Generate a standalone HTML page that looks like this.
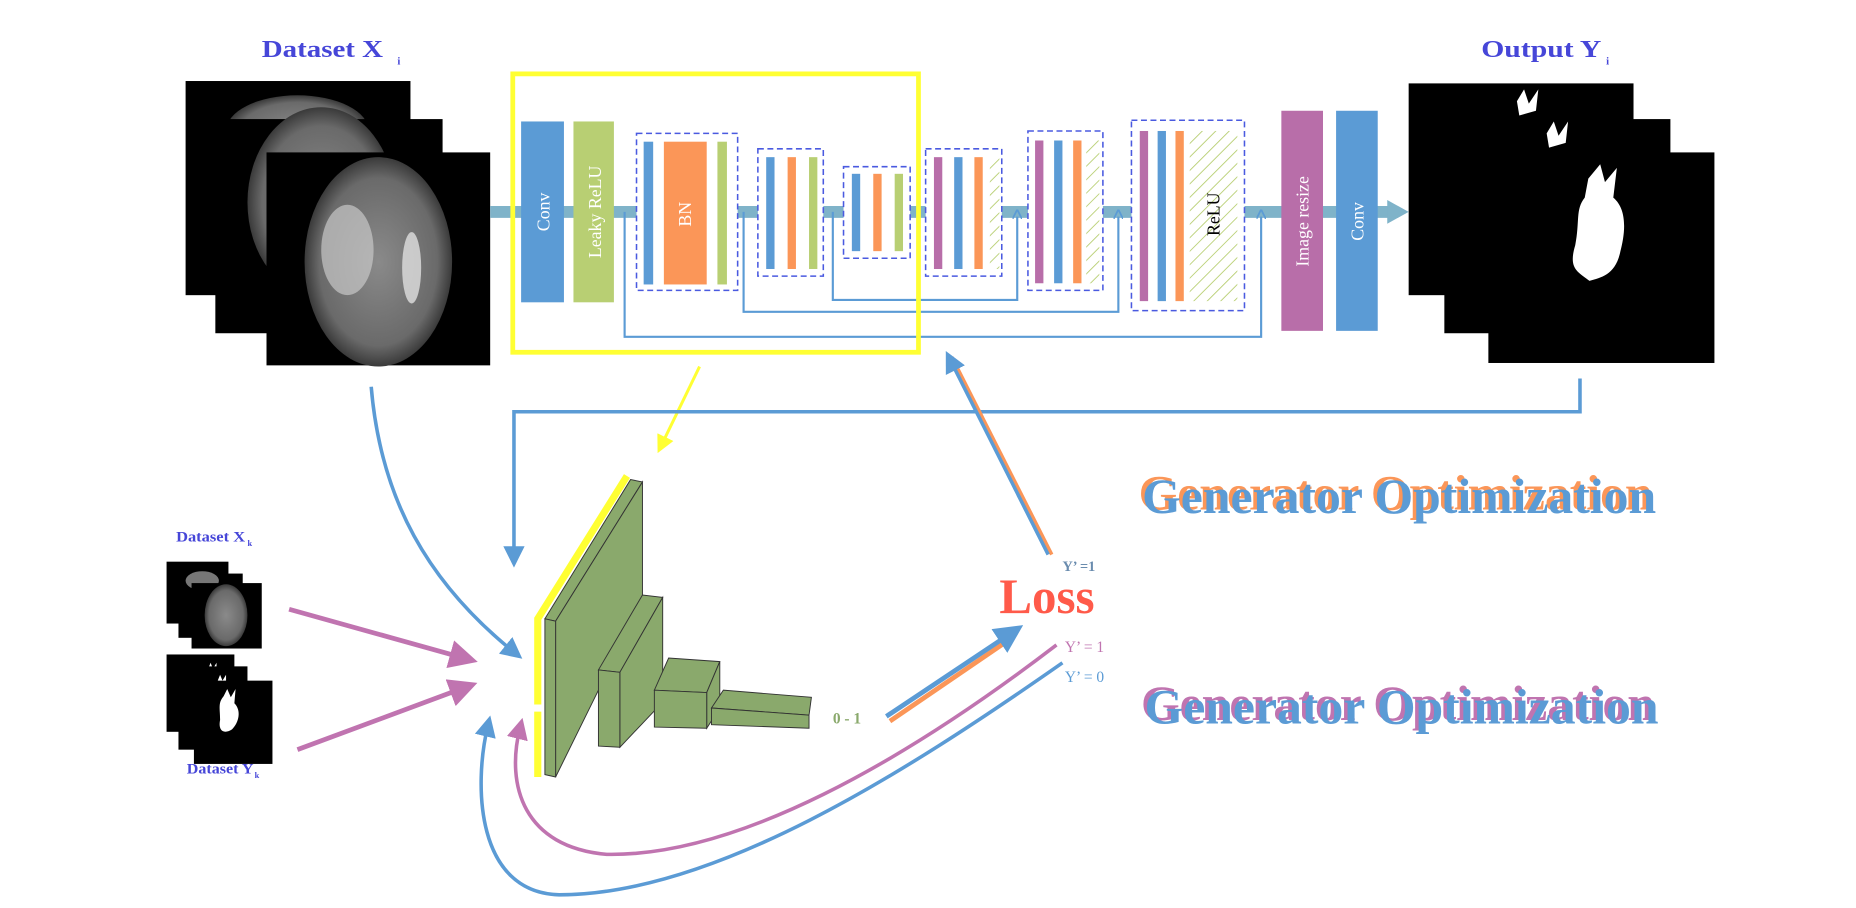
<!DOCTYPE html>
<html><head><meta charset="utf-8"><style>html,body{margin:0;padding:0;background:#fff;overflow:hidden}svg{display:block}</style></head>
<body>
<svg width="1856" height="908" viewBox="0 0 1560 763" xmlns="http://www.w3.org/2000/svg" font-family="Liberation Serif, serif">
<defs>
<radialGradient id="br" cx="50%" cy="50%" r="50%"><stop offset="0" stop-color="#8a8a8a"/><stop offset="0.8" stop-color="#6a6a6a"/><stop offset="1" stop-color="#3a3a3a"/></radialGradient>
<pattern id="hat" width="8" height="8" patternUnits="userSpaceOnUse" patternTransform="rotate(45)"><line x1="0" y1="0" x2="0" y2="8" stroke="#b8cf73" stroke-width="1.5"/></pattern>
<marker id="ab" markerWidth="6" markerHeight="6" refX="3" refY="3" orient="auto" markerUnits="strokeWidth"><path d="M0,0 L6,3 L0,6 z" fill="#5b9bd5"/></marker>
<marker id="ap" markerWidth="6" markerHeight="6" refX="3" refY="3" orient="auto" markerUnits="strokeWidth"><path d="M0,0 L6,3 L0,6 z" fill="#c074b0"/></marker>
<marker id="ay" markerWidth="6" markerHeight="6" refX="3" refY="3" orient="auto" markerUnits="strokeWidth"><path d="M0,0 L6,3 L0,6 z" fill="#ffff33"/></marker>
<marker id="as" markerWidth="8" markerHeight="8" refX="2" refY="4" orient="auto" markerUnits="userSpaceOnUse"><path d="M0,0 L8,4 L0,8" fill="none" stroke="#5b9bd5" stroke-width="1.5"/></marker>
</defs>

<!-- titles -->
<text x="220" y="48" font-size="20" font-weight="bold" fill="#4646d8" textLength="102" lengthAdjust="spacingAndGlyphs">Dataset X</text><text x="334" y="54" font-size="9" font-weight="bold" fill="#4646d8">i</text>
<text x="1245" y="48" font-size="20" font-weight="bold" fill="#4646d8" textLength="101" lengthAdjust="spacingAndGlyphs">Output Y</text><text x="1350" y="54" font-size="9" font-weight="bold" fill="#4646d8">i</text>

<!-- brain stack -->
<rect x="156" y="68" width="189" height="180" fill="#000"/>
<ellipse cx="250" cy="110" rx="60" ry="30" fill="url(#br)"/>
<rect x="181" y="100" width="191" height="180" fill="#000"/>
<ellipse cx="270" cy="170" rx="62" ry="80" fill="url(#br)"/>
<rect x="224" y="128" width="188" height="179" fill="#000"/>
<ellipse cx="318" cy="220" rx="62" ry="88" fill="url(#br)"/>
<ellipse cx="292" cy="210" rx="22" ry="38" fill="#c8c8c8" opacity="0.7"/>
<ellipse cx="346" cy="225" rx="8" ry="30" fill="#e0e0e0" opacity="0.8"/>

<!-- output stack -->
<rect x="1184" y="70" width="189" height="178" fill="#000"/>
<path d="M1275,85 l6,-10 l4,12 l8,-12 l-2,18 l-14,4z" fill="#fff"/>
<rect x="1214" y="100" width="190" height="180" fill="#000"/>
<path d="M1300,112 l6,-10 l4,12 l8,-12 l-2,18 l-14,4z" fill="#fff"/>
<rect x="1251" y="128" width="190" height="177" fill="#000"/>
<path d="M1335,150 l10,-12 l4,15 l10,-12 l-3,25 c12,10 10,30 6,45 c-4,20 -16,22 -26,25 c-10,-8 -18,-10 -12,-30 c4,-20 0,-30 8,-40z" fill="#fff"/>

<!-- pipeline -->
<line x1="412" y1="178" x2="1168" y2="178" stroke="#7fb3c9" stroke-width="10"/>
<path d="M1166,168 L1184,178 L1166,188z" fill="#7fb3c9"/>

<!-- skip connections -->
<g fill="none" stroke="#5b9bd5" stroke-width="1.8">
<path d="M700,178 V252 H855 V182" marker-end="url(#as)"/>
<path d="M625,178 V262 H940 V182" marker-end="url(#as)"/>
<path d="M525,178 V283 H1060 V182" marker-end="url(#as)"/>
</g>

<!-- layers -->
<rect x="438" y="102" width="36" height="152" fill="#5b9bd5"/>
<text transform="translate(462,178) rotate(-90)" text-anchor="middle" font-size="15" fill="#fff">Conv</text>
<rect x="482" y="102" width="34" height="152" fill="#b8cf73"/>
<text transform="translate(505,178) rotate(-90)" text-anchor="middle" font-size="15" fill="#fff">Leaky ReLU</text>

<g fill="#fff" stroke="#4a5ae0" stroke-width="1.3" stroke-dasharray="5,3">
<rect x="535" y="112" width="85" height="132"/>
<rect x="637" y="125" width="55" height="107"/>
<rect x="709" y="140" width="56" height="77"/>
<rect x="778" y="125" width="64" height="107"/>
<rect x="864" y="110" width="63" height="134"/>
<rect x="951" y="101" width="95" height="160"/>
</g>
<rect x="541" y="119" width="8" height="120" fill="#5b9bd5"/>
<rect x="558" y="119" width="36" height="120" fill="#fb9658"/>
<text transform="translate(581,180) rotate(-90)" text-anchor="middle" font-size="15" fill="#fff">BN</text>
<rect x="603" y="119" width="8" height="120" fill="#b8cf73"/>

<rect x="644" y="132" width="7" height="94" fill="#5b9bd5"/>
<rect x="662" y="132" width="7" height="94" fill="#fb9658"/>
<rect x="680" y="132" width="7" height="94" fill="#b8cf73"/>

<rect x="716" y="146" width="7" height="65" fill="#5b9bd5"/>
<rect x="734" y="146" width="7" height="65" fill="#fb9658"/>
<rect x="752" y="146" width="7" height="65" fill="#b8cf73"/>

<rect x="785" y="132" width="7" height="94" fill="#b86ea9"/>
<rect x="802" y="132" width="7" height="94" fill="#5b9bd5"/>
<rect x="819" y="132" width="7" height="94" fill="#fb9658"/>
<rect x="832" y="132" width="8" height="94" fill="url(#hat)"/>

<rect x="870" y="118" width="7" height="120" fill="#b86ea9"/>
<rect x="886" y="118" width="7" height="120" fill="#5b9bd5"/>
<rect x="902" y="118" width="7" height="120" fill="#fb9658"/>
<rect x="913" y="118" width="11" height="120" fill="url(#hat)"/>

<rect x="958" y="110" width="7" height="143" fill="#b86ea9"/>
<rect x="973" y="110" width="7" height="143" fill="#5b9bd5"/>
<rect x="988" y="110" width="7" height="143" fill="#fb9658"/>
<rect x="1000" y="110" width="40" height="143" fill="url(#hat)"/>
<text transform="translate(1025,180) rotate(-90)" text-anchor="middle" font-size="15" fill="#000">ReLU</text>

<rect x="1077" y="93" width="35" height="185" fill="#b86ea9"/>
<text transform="translate(1100,186) rotate(-90)" text-anchor="middle" font-size="15" fill="#fff">Image resize</text>
<rect x="1123" y="93" width="35" height="185" fill="#5b9bd5"/>
<text transform="translate(1146,186) rotate(-90)" text-anchor="middle" font-size="15" fill="#fff">Conv</text>

<!-- yellow box -->
<rect x="431" y="62" width="341" height="234" fill="none" stroke="#ffff33" stroke-width="4"/>
<line x1="588" y1="308" x2="556" y2="374" stroke="#ffff33" stroke-width="2.5" marker-end="url(#ay)"/>

<!-- feedback lines -->
<path d="M1328,318 V346 H432 V468" fill="none" stroke="#5b9bd5" stroke-width="3" marker-end="url(#ab)"/>
<path d="M312,325 C320,420 360,490 432,548" fill="none" stroke="#5b9bd5" stroke-width="3" marker-end="url(#ab)"/>
<line x1="884" y1="466" x2="800" y2="300" stroke="#fb9658" stroke-width="3"/>
<line x1="881" y1="466" x2="799" y2="303" stroke="#5b9bd5" stroke-width="3" marker-end="url(#ab)"/>

<!-- discriminator -->
<polyline points="452,653 452,598" fill="none" stroke="#ffff33" stroke-width="6"/>
<polyline points="452,592 452,520 527,400" fill="none" stroke="#ffff33" stroke-width="6"/>
<g stroke="#333" stroke-width="0.8" fill="#8aa96c">
<polygon points="458,520 530,403 540,405 467,522"/>
<polygon points="467,522 540,405 540,505 467,653"/>
<polygon points="458,520 467,522 467,653 458,651"/>
<polygon points="503,563 540,500 557,502 521,565"/>
<polygon points="521,565 557,502 557,590 521,628"/>
<polygon points="503,563 521,565 521,628 503,627"/>
<polygon points="550,580 562,553 605,556 594,582"/>
<polygon points="594,582 605,556 605,595 594,612"/>
<polygon points="550,580 594,582 594,612 550,611"/>
<polygon points="598,595 608,580 682,586 680,601"/>
<polygon points="598,595 680,601 680,612 598,609"/>
</g>
<text x="700" y="608" font-size="13" font-weight="bold" fill="#8aa96c">0 - 1</text>
<line x1="748" y1="606" x2="852" y2="535" stroke="#fb9658" stroke-width="4"/>
<line x1="745" y1="602" x2="850" y2="532" stroke="#5b9bd5" stroke-width="4" marker-end="url(#ab)"/>

<path d="M888,542 C760,640 620,720 510,718 C440,712 425,660 437,612" fill="none" stroke="#c074b0" stroke-width="3" marker-end="url(#ap)"/>
<path d="M893,557 C760,650 600,752 470,752 C400,750 398,660 410,610" fill="none" stroke="#5b9bd5" stroke-width="3" marker-end="url(#ab)"/>

<text x="840" y="515" font-size="42" font-weight="bold" fill="#ff5a4a" textLength="80" lengthAdjust="spacingAndGlyphs">Loss</text>
<text x="893" y="480" font-size="12" font-weight="bold" fill="#6a8cae">Y’ =1</text>
<text x="895" y="548" font-size="13" fill="#c074b0">Y’ = 1</text>
<text x="895" y="573" font-size="13" fill="#5b9bd5">Y’ = 0</text>

<text x="957" y="428" font-size="42" font-weight="bold" fill="#fb9658" textLength="432" lengthAdjust="spacingAndGlyphs">Generator Optimization</text>
<text x="960" y="431" font-size="42" font-weight="bold" fill="#5b9bd5" textLength="432" lengthAdjust="spacingAndGlyphs">Generator Optimization</text>
<text x="959" y="605" font-size="42" font-weight="bold" fill="#c074b0" textLength="432" lengthAdjust="spacingAndGlyphs">Generator Optimization</text>
<text x="962" y="608" font-size="42" font-weight="bold" fill="#5b9bd5" textLength="432" lengthAdjust="spacingAndGlyphs">Generator Optimization</text>

<!-- dataset k -->
<text x="148" y="455" font-size="12" font-weight="bold" fill="#4646d8" textLength="58" lengthAdjust="spacingAndGlyphs">Dataset X</text><text x="208" y="459" font-size="7" font-weight="bold" fill="#4646d8">k</text>
<rect x="140" y="472" width="52" height="52" fill="#000"/>
<rect x="150" y="482" width="54" height="54" fill="#000"/>
<ellipse cx="170" cy="488" rx="14" ry="8" fill="#777"/>
<rect x="161" y="490" width="59" height="55" fill="#000"/>
<ellipse cx="190" cy="517" rx="18" ry="26" fill="url(#br)"/>
<rect x="140" y="550" width="57" height="65" fill="#000"/>
<path d="M175,562 l2,-5 l2,5 l3,-5 l0,8z" fill="#fff"/>
<rect x="150" y="560" width="58" height="70" fill="#000"/>
<path d="M183,572 l2,-5 l2,5 l3,-5 l0,8z" fill="#fff"/>
<rect x="163" y="572" width="66" height="70" fill="#000"/>
<path d="M188,585 l3,-6 l3,7 l4,-7 l-1,12 c6,6 4,16 -2,22 c-6,4 -12,2 -10,-8 c0,-10 -2,-14 3,-20z" fill="#fff"/>
<text x="157" y="650" font-size="12" font-weight="bold" fill="#4646d8" textLength="56" lengthAdjust="spacingAndGlyphs">Dataset Y</text><text x="214" y="654" font-size="7" font-weight="bold" fill="#4646d8">k</text>
<line x1="243" y1="512" x2="390" y2="553" stroke="#c074b0" stroke-width="4" marker-end="url(#ap)"/>
<line x1="250" y1="630" x2="390" y2="578" stroke="#c074b0" stroke-width="4" marker-end="url(#ap)"/>
</svg>
</body></html>
